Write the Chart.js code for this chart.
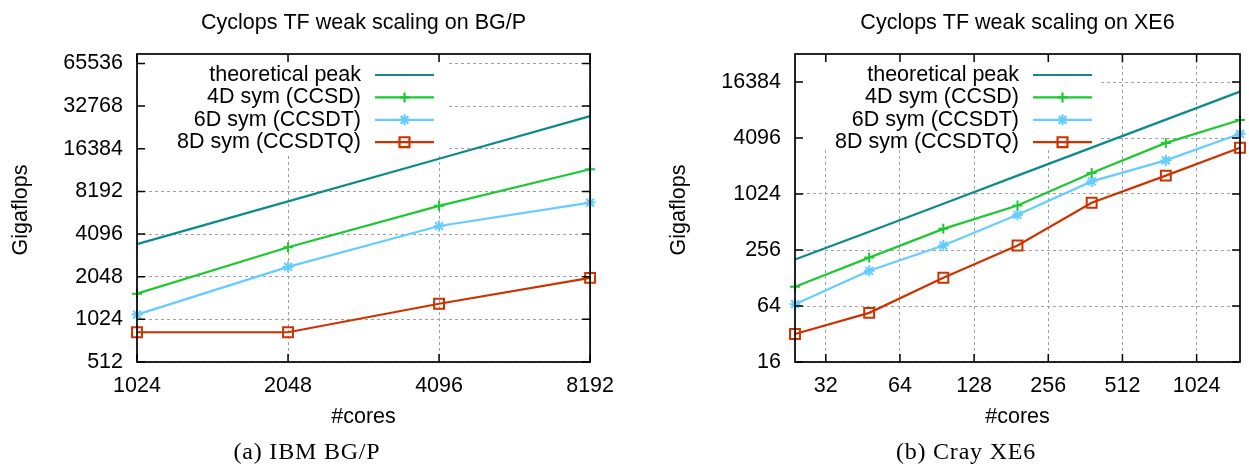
<!DOCTYPE html>
<html>
<head>
<meta charset="utf-8">
<script src="https://cdn.jsdelivr.net/npm/chart.js@4/dist/chart.umd.min.js"></script>
<style>
    body { margin: 0; background: #fff; width: 1249px; height: 466px; overflow: hidden; position: relative; }
    .panel { position: absolute; top: 0; }
    #panelA { left: 0; }
    #panelB { left: 625px; }
    .caption { position: absolute; top: 439px; font-family: "Liberation Serif", "Times New Roman", serif; font-size: 24px; line-height: 24px; text-align: center; letter-spacing: 0.8px; color: #000; white-space: nowrap; }
    #captionA { left: 0; width: 614px; }
    #captionB { left: 660px; width: 612px; }
</style>
</head>
<body>
<div class="panel" id="panelA"><canvas id="chartA" width="625" height="440"></canvas></div>
<div class="panel" id="panelB"><canvas id="chartB" width="624" height="440"></canvas></div>
<div class="caption" id="captionA">(a) IBM BG/P</div>
<div class="caption" id="captionB">(b) Cray XE6</div>

<script>
// BG/P (left panel)
const bgpCores = [1024, 2048, 4096, 8192];
const bgpPeak = [3480, 6960, 13920, 27850];
const bgpCcsd = [1555, 3306, 6477, 11745];
const bgpCcsdt = [1106, 2401, 4670, 6826];
const bgpCcsdtq = [830, 830, 1320, 2010];
const bgpXTicks = [1024, 2048, 4096, 8192];
const bgpYTicks = [512, 1024, 2048, 4096, 8192, 16384, 32768, 65536];

// XE6 (right panel)
const xe6Cores = [24, 48, 96, 192, 384, 768, 1536];
const xe6Peak = [202, 403, 806, 1613, 3226, 6451, 12902];
const xe6Ccsd = [103, 212, 432, 771, 1722, 3630, 6386];
const xe6Ccsdt = [67, 153, 286, 612, 1399, 2352, 4544];
const xe6Ccsdtq = [32, 54, 129, 286, 824, 1613, 3213];
const xe6XTicks = [32, 64, 128, 256, 512, 1024];
const xe6YTicks = [16, 64, 256, 1024, 4096, 16384];

const seriesNames = ["theoretical peak", "4D sym (CCSD)", "6D sym (CCSDT)", "8D sym (CCSDTQ)"];
const seriesColors = ["#0f8a8a", "#1ec832", "#66ccff", "#cc3300"];
const seriesMarkers = [null, "cross", "star", "rect"];
const markerRadius = [0, 5, 5.5, 7];

const FONT = '"Liberation Sans", Arial, sans-serif';
const FONT_SIZE = 21.5;
const TICK_LEN = 8;

function drawMarker(ctx, style, x, y, r) {
    ctx.beginPath();
    if (style === "cross" || style === "star") {
        ctx.moveTo(x - r, y); ctx.lineTo(x + r, y);
        ctx.moveTo(x, y - r); ctx.lineTo(x, y + r);
    }
    if (style === "star") {
        const d = r * Math.SQRT1_2;
        ctx.moveTo(x - d, y - d); ctx.lineTo(x + d, y + d);
        ctx.moveTo(x - d, y + d); ctx.lineTo(x + d, y - d);
    }
    if (style === "rect") {
        const h = r * Math.SQRT1_2;
        ctx.rect(x - h, y - h, 2 * h, 2 * h);
    }
    ctx.stroke();
}

// gnuplot look: white key box, border with inward ticks, titles and key
const gnuplotLook = {
    id: "gnuplotLook",
    beforeDatasetsDraw(chart, args, opts) {
        const a = chart.chartArea;
        const ctx = chart.ctx;
        ctx.save();
        ctx.fillStyle = "#fff";
        ctx.fillRect(a.left + 1, a.top + 1, opts.keyRight, opts.keyBottom);
        ctx.restore();
    },
    afterDraw(chart, args, opts) {
        const a = chart.chartArea;
        const ctx = chart.ctx;
        const xs = chart.scales.x;
        const ys = chart.scales.y;
        ctx.save();

        // border
        ctx.strokeStyle = "#000";
        ctx.lineWidth = 1.7;
        ctx.strokeRect(a.left, a.top, a.right - a.left, a.bottom - a.top);

        // tick marks on all four sides, pointing inward
        ctx.lineWidth = 1.5;
        ctx.beginPath();
        xs.ticks.forEach(t => {
            const px = xs.getPixelForValue(t.value);
            ctx.moveTo(px, a.bottom); ctx.lineTo(px, a.bottom - TICK_LEN);
            ctx.moveTo(px, a.top); ctx.lineTo(px, a.top + TICK_LEN);
        });
        ys.ticks.forEach(t => {
            const py = ys.getPixelForValue(t.value);
            ctx.moveTo(a.left, py); ctx.lineTo(a.left + TICK_LEN, py);
            ctx.moveTo(a.right, py); ctx.lineTo(a.right - TICK_LEN, py);
        });
        ctx.stroke();

        // titles
        ctx.fillStyle = "#000";
        ctx.font = FONT_SIZE + "px " + FONT;
        ctx.textAlign = "center";
        ctx.textBaseline = "alphabetic";
        const midX = (a.left + a.right) / 2;
        ctx.fillText(opts.title, midX, 29);
        ctx.fillText("#cores", midX, 423);
        ctx.save();
        ctx.translate(a.left - 116, 210);
        ctx.rotate(-Math.PI / 2);
        ctx.textBaseline = "middle";
        ctx.fillText("Gigaflops", 0, 0);
        ctx.restore();

        // key
        ctx.textAlign = "right";
        ctx.textBaseline = "middle";
        seriesNames.forEach((name, i) => {
            const y = a.top + 21 + i * 22.4;
            ctx.fillStyle = "#000";
            ctx.fillText(name, a.left + 224, y);
            ctx.strokeStyle = seriesColors[i];
            ctx.lineWidth = 2.2;
            ctx.beginPath();
            ctx.moveTo(a.left + 238, y);
            ctx.lineTo(a.left + 297, y);
            ctx.stroke();
            if (seriesMarkers[i]) {
                drawMarker(ctx, seriesMarkers[i], a.left + 267.5, y, markerRadius[i]);
            }
        });
        ctx.restore();
    }
};

function buildDatasets(cores, allValues) {
    return allValues.map((vals, i) => ({
        label: seriesNames[i],
        data: cores.map((c, j) => ({ x: c, y: vals[j] })),
        borderColor: seriesColors[i],
        backgroundColor: seriesColors[i],
        borderWidth: 2.2,
        pointStyle: seriesMarkers[i] || "circle",
        pointRadius: markerRadius[i],
        pointHoverRadius: markerRadius[i],
        pointBorderWidth: 2,
        pointBorderColor: seriesColors[i],
        pointBackgroundColor: "rgba(0,0,0,0)",
        tension: 0,
        clip: false
    }));
}

function logAxis(min, max, tickValues, fitProp, fitSize) {
    return {
        type: "logarithmic",
        min: min,
        max: max,
        afterBuildTicks: scale => { scale.ticks = tickValues.map(v => ({ value: v })); },
        afterFit: scale => { scale[fitProp] = fitSize; },
        ticks: {
            autoSkip: false,
            maxRotation: 0,
            color: "#000",
            padding: fitProp === "width" ? 14 : 11,
            font: { family: FONT, size: FONT_SIZE },
            callback: value => String(value)
        },
        grid: { color: "#a0a0a0", lineWidth: 1, drawTicks: false },
        border: { display: false, dash: [3, 3] }
    };
}

function makeChart(canvasId, cfg) {
    const canvas = document.getElementById(canvasId);
    return new Chart(canvas, {
        type: "line",
        data: { datasets: buildDatasets(cfg.cores, cfg.values) },
        options: {
            responsive: false,
            animation: false,
            layout: { padding: { left: 0, top: 54, right: cfg.padRight, bottom: 0 } },
            scales: {
                x: logAxis(cfg.xMin, cfg.xMax, cfg.xTicks, "height", 78),
                y: logAxis(cfg.yMin, cfg.yMax, cfg.yTicks, "width", cfg.yAxisWidth)
            },
            plugins: {
                legend: { display: false },
                title: { display: false },
                tooltip: { enabled: false },
                gnuplotLook: { title: cfg.title, keyRight: cfg.keyRight, keyBottom: cfg.keyBottom }
            }
        },
        plugins: [gnuplotLook]
    });
}

makeChart("chartA", {
    title: "Cyclops TF weak scaling on BG/P",
    cores: bgpCores,
    values: [bgpPeak, bgpCcsd, bgpCcsdt, bgpCcsdtq],
    xMin: 1024, xMax: 8192, xTicks: bgpXTicks,
    yMin: 512, yMax: 76400, yTicks: bgpYTicks,
    yAxisWidth: 137, padRight: 34,
    keyRight: 309, keyBottom: 100
});

makeChart("chartB", {
    title: "Cyclops TF weak scaling on XE6",
    cores: xe6Cores,
    values: [xe6Peak, xe6Ccsd, xe6Ccsdt, xe6Ccsdtq],
    xMin: 24, xMax: 1536, xTicks: xe6XTicks,
    yMin: 16, yMax: 32768, yTicks: xe6YTicks,
    yAxisWidth: 170, padRight: 1,
    keyRight: 305, keyBottom: 92
});
</script>
</body>
</html>
